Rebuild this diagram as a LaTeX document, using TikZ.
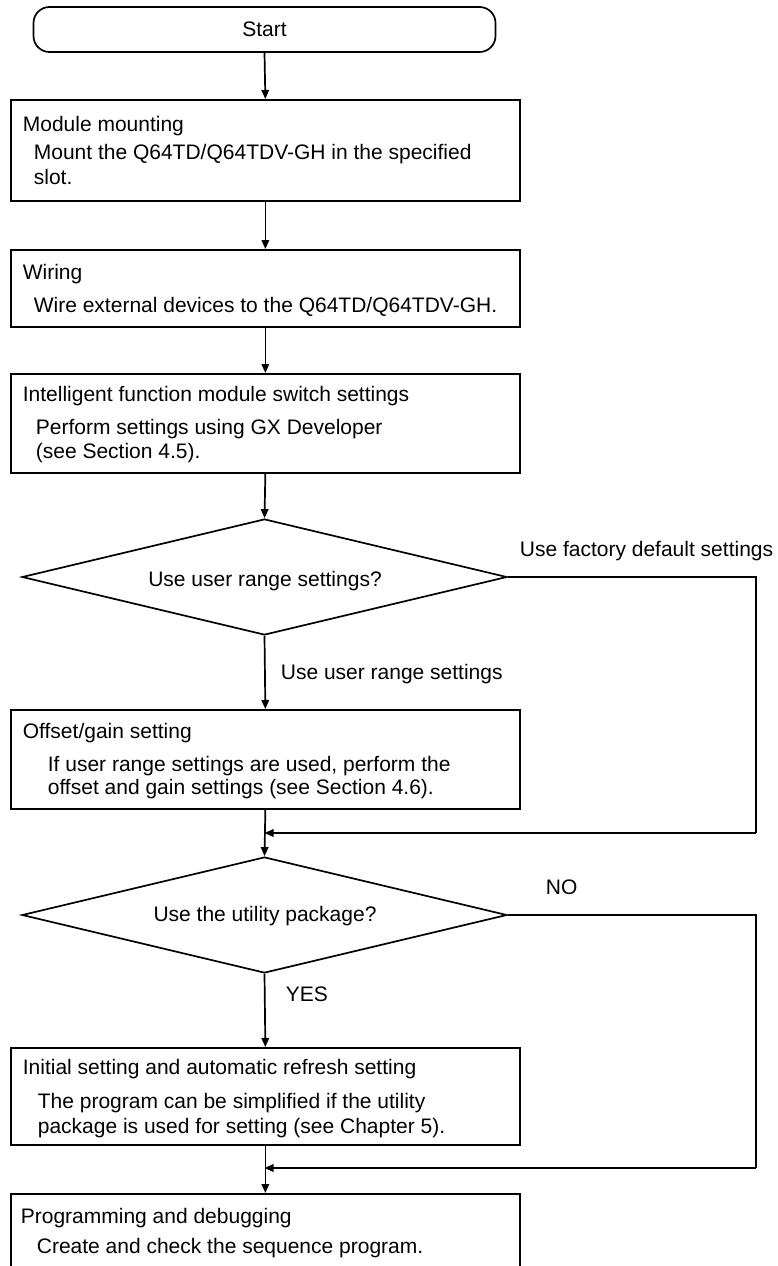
\documentclass[tikz,border=0pt]{standalone}
\usepackage{fontspec}
\setmainfont{Liberation Sans}
\usetikzlibrary{arrows.meta,shapes.geometric}
\begin{document}
\begin{tikzpicture}[x=1pt,y=-1pt,
  line width=1.7pt,
  font=\fontsize{21}{24}\selectfont,
  box/.style={draw, rectangle, minimum width=509pt, anchor=north west, inner sep=0pt},
  term/.style={draw, rectangle, rounded corners=16pt, minimum width=462pt, minimum height=45pt, inner sep=0pt},
  dec/.style={draw, diamond, aspect=4.2, minimum width=485pt, minimum height=116pt, inner sep=0pt},
  txt/.style={anchor=base west, inner sep=0pt},
  ctxt/.style={anchor=base, inner sep=0pt},
  arr/.style={-{Triangle[length=9pt,width=7.5pt]}}
]
\useasboundingbox (0,0) rectangle (778,1266);
\clip (0,0) rectangle (778,1266);

% nodes
\node[term] (start) at (264.5,29.5) {Start};

\node[box, minimum height=101pt] (b1) at (10,99) {};
\node[txt] (b1t) at (22,131) {Module mounting};
\node[txt] (b1a) at (33,159) {Mount the Q64TD/Q64TDV-GH in the specified};
\node[txt] (b1b) at (33,184) {slot.};

\node[box, minimum height=77pt] (b2) at (10,249) {};
\node[txt] (b2t) at (22,279) {Wiring};
\node[txt] (b2a) at (33,312) {Wire external devices to the Q64TD/Q64TDV-GH.};

\node[box, minimum height=99pt] (b3) at (10,373) {};
\node[txt] (b3t) at (22,401) {Intelligent function module switch settings};
\node[txt] (b3a) at (35,434) {Perform settings using GX Developer};
\node[txt] (b3b) at (35,458) {(see Section 4.5).};

\node[dec] (d1) at (264.5,577) {};
\node[ctxt] (d1t) at (265,586) {Use user range settings?};
\node[txt] (l1) at (519,556) {Use factory default settings};
\node[txt] (l2) at (280,679) {Use user range settings};

\node[box, minimum height=99pt] (b4) at (10,709) {};
\node[txt] (b4t) at (22,738) {Offset/gain setting};
\node[txt] (b4a) at (47,771) {If user range settings are used, perform the};
\node[txt] (b4b) at (47,794) {offset and gain settings (see Section 4.6).};

\node[dec] (d2) at (264.5,915) {};
\node[ctxt] (d2t) at (265,921) {Use the utility package?};
\node[txt] (l3) at (545,894) {NO};
\node[txt] (l4) at (285,1001) {YES};

\node[box, minimum height=97pt] (b5) at (10,1047) {};
\node[txt] (b5t) at (22,1074) {Initial setting and automatic refresh setting};
\node[txt] (b5a) at (37,1108) {The program can be simplified if the utility};
\node[txt] (b5b) at (37,1133) {package is used for setting (see Chapter 5).};

\node[box, minimum height=110pt] (b6) at (10,1193) {};
\node[txt] (b6t) at (20,1223) {Programming and debugging};
\node[txt] (b6a) at (36,1253) {Create and check the sequence program.};

% helper coordinates
\coordinate (r1a) at (756,577);
\coordinate (r1b) at (756,833);
\coordinate (m1) at (264.5,833);
\coordinate (r2a) at (756,915);
\coordinate (r2b) at (756,1168);
\coordinate (m2) at (264.5,1168);

% connectors
\draw[arr] (start.south) -- (b1.north);
\draw[arr] (b1.south) -- (b2.north);
\draw[arr] (b2.south) -- (b3.north);
\draw[arr] (b3.south) -- (d1.north);
\draw[arr] (d1.south) -- (b4.north);
\draw (d1.east) -- (r1a) -- (r1b);
\draw[arr] (r1b) -- (m1);
\draw[arr] (b4.south) -- (d2.north);
\draw[arr] (d2.south) -- (b5.north);
\draw (d2.east) -- (r2a) -- (r2b);
\draw[arr] (r2b) -- (m2);
\draw[arr] (b5.south) -- (b6.north);
\end{tikzpicture}
\end{document}
